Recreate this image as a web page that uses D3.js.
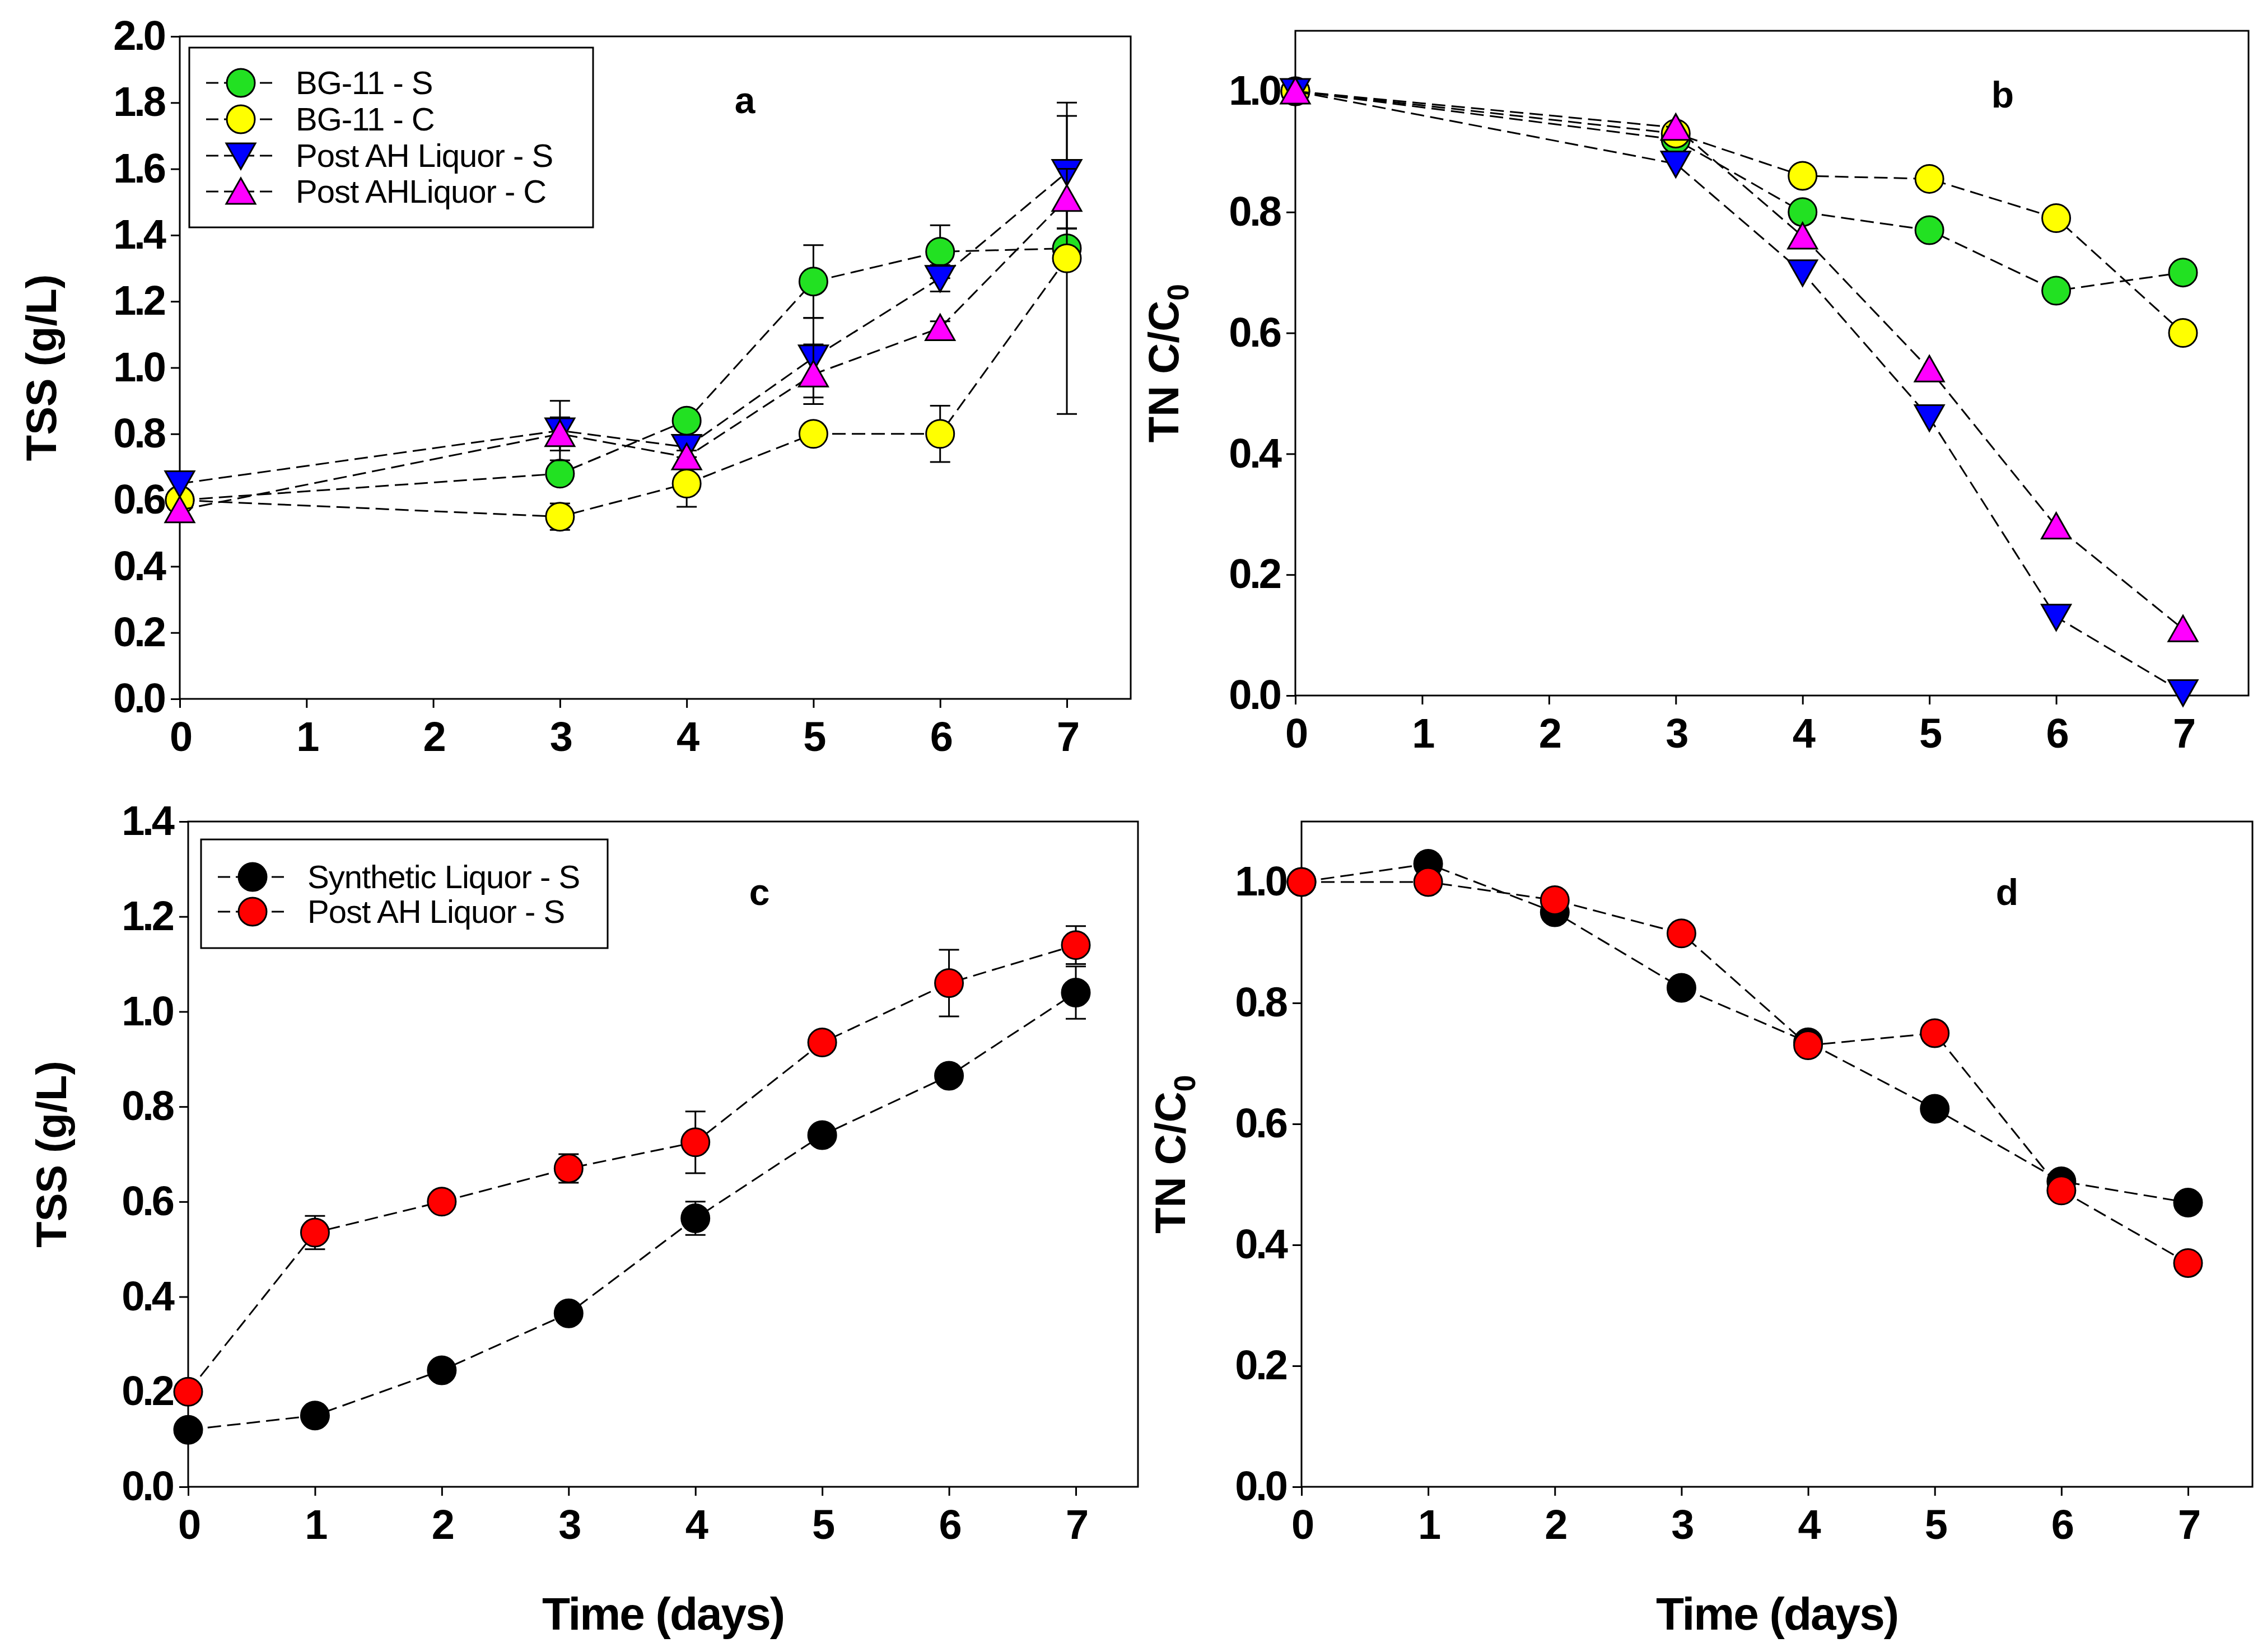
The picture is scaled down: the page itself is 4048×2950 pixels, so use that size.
<!DOCTYPE html>
<html><head><meta charset="utf-8">
<script src="https://cdn.jsdelivr.net/npm/d3@7"></script>
<style>body{margin:0;background:#fff}</style>
</head><body>
<script>
// data
const daysA = [0, 3, 4, 5, 6, 7];
const daysC = [0, 1, 2, 3, 4, 5, 6, 7];
const aGreen = [0.60, 0.68, 0.84, 1.26, 1.35, 1.36];
const aGreenErr = [0, 0.02, 0.02, 0.11, 0.08, 0.06];
const aYellow = [0.60, 0.55, 0.65, 0.80, 0.80, 1.33];
const aYellowErr = [0, 0.04, 0.07, 0.02, 0.085, 0.47];
const aBlue = [0.65, 0.81, 0.76, 1.03, 1.27, 1.59];
const aBlueErr = [0, 0.09, 0.03, 0.12, 0.04, 0.17];
const aPink = [0.57, 0.80, 0.73, 0.98, 1.12, 1.51];
const aPinkErr = [0, 0.05, 0.02, 0.09, 0.02, 0.09];
const bGreen = [1.0, 0.92, 0.80, 0.77, 0.67, 0.70];
const bYellow = [1.0, 0.93, 0.86, 0.855, 0.79, 0.60];
const bBlue = [1.0, 0.88, 0.70, 0.46, 0.13, 0.005];
const bPink = [1.0, 0.94, 0.76, 0.54, 0.28, 0.11];
const cBlack = [0.12, 0.15, 0.245, 0.365, 0.565, 0.74, 0.865, 1.04];
const cBlackErr = [0, 0, 0, 0.02, 0.035, 0, 0, 0.055];
const cRed = [0.20, 0.535, 0.60, 0.67, 0.725, 0.935, 1.06, 1.14];
const cRedErr = [0, 0.035, 0, 0.03, 0.065, 0, 0.07, 0.04];
const dBlack = [1.0, 1.03, 0.95, 0.825, 0.735, 0.625, 0.505, 0.47];
const dRed = [1.0, 1.0, 0.97, 0.915, 0.73, 0.75, 0.49, 0.37];
const legendA = ["BG-11 - S", "BG-11 - C", "Post AH Liquor - S", "Post AHLiquor - C"];
const legendC = ["Synthetic Liquor - S", "Post AH Liquor - S"];

const W = 4048, H = 2950;
const svg = d3.select("body").append("svg").attr("width", W).attr("height", H);
const tickFont = "'Liberation Sans Narrow', 'Liberation Sans', Arial, sans-serif";
const R = 25;

function panel(p) {
  const x = d3.scaleLinear().domain([0, 7]).range([p.x0, p.x7]);
  const y = d3.scaleLinear().domain([0, p.ymax]).range([p.bottom, p.top]);
  const g = svg.append("g");
  g.append("rect").attr("x", p.left).attr("y", p.top).attr("width", p.right - p.left)
    .attr("height", p.bottom - p.top).attr("fill", "none").attr("stroke", "#000").attr("stroke-width", 3);
  const ax = g.append("g").attr("transform", `translate(0,${p.bottom})`)
    .call(d3.axisBottom(x).ticks(8).tickSize(16).tickPadding(24).tickFormat(d3.format("d")));
  const ay = g.append("g").attr("transform", `translate(${p.left},0)`)
    .call(d3.axisLeft(y).tickValues(d3.range(0, p.ymax + 0.001, 0.2)).tickSize(16).tickPadding(12).tickFormat(d3.format(".1f")));
  [ax, ay].forEach(a => {
    a.select(".domain").remove();
    a.selectAll("line").attr("stroke-width", 3);
    a.selectAll("text").attr("font-family", tickFont).attr("font-weight", "bold").attr("font-size", 74)
      .attr("letter-spacing", -4).attr("fill", "#000");
  });
  g.append("text").attr("transform", `translate(${p.ytx},${(p.top + p.bottom) / 2}) rotate(-90)`)
    .attr("text-anchor", "middle").attr("font-family", "Arial, 'Liberation Sans', sans-serif")
    .attr("font-weight", "bold").attr("font-size", 76).text(p.ytitle).each(function () {
      if (p.sub) {
        d3.select(this).text("TN C/C");
        d3.select(this).append("tspan").attr("font-size", 54).attr("dy", 18).text("0");
      }
    });
  if (p.xtitle) {
    g.append("text").attr("x", (p.left + p.right) / 2).attr("y", 2910).attr("text-anchor", "middle")
      .attr("font-family", tickFont).attr("font-weight", "bold").attr("font-size", 82).attr("letter-spacing", -2).text("Time (days)");
  }
  g.append("text").attr("x", p.lx).attr("y", p.ly).attr("text-anchor", "middle")
    .attr("font-family", tickFont).attr("font-weight", "bold").attr("font-size", 66).text(p.letter);
  return { g, x, y };
}

function series(P, days, vals, errs, color, shape) {
  const line = d3.line().x((d, i) => P.x(days[i])).y(d => P.y(d));
  P.g.append("path").datum(vals).attr("d", line).attr("fill", "none").attr("stroke", "#000")
    .attr("stroke-width", 3).attr("stroke-dasharray", "24,11");
  if (errs) {
    vals.forEach((v, i) => {
      if (!errs[i]) return;
      const cx = P.x(days[i]), y1 = P.y(v - errs[i]), y2 = P.y(v + errs[i]);
      P.g.append("line").attr("x1", cx).attr("x2", cx).attr("y1", y1).attr("y2", y2).attr("stroke", "#000").attr("stroke-width", 3);
      [y1, y2].forEach(yy => P.g.append("line").attr("x1", cx - 18).attr("x2", cx + 18).attr("y1", yy).attr("y2", yy).attr("stroke", "#000").attr("stroke-width", 3));
    });
  }
  vals.forEach((v, i) => marker(P.g, P.x(days[i]), P.y(v), color, shape));
}

function marker(g, cx, cy, color, shape) {
  let sym = shape === "circle" ? null : shape === "down" ? "M-26,-22L26,-22L0,24Z" : "M-26,22L26,22L0,-24Z";
  if (!sym) g.append("circle").attr("cx", cx).attr("cy", cy).attr("r", R).attr("fill", color).attr("stroke", "#000").attr("stroke-width", 3);
  else g.append("path").attr("d", sym).attr("transform", `translate(${cx},${cy})`).attr("fill", color).attr("stroke", "#000").attr("stroke-width", 3);
}

function legend(g, x0, y0, w, h, rows, labels, styles) {
  g.append("rect").attr("x", x0).attr("y", y0).attr("width", w).attr("height", h).attr("fill", "#fff").attr("stroke", "#000").attr("stroke-width", 3);
  labels.forEach((t, i) => {
    const yy = rows[i];
    g.append("line").attr("x1", x0 + 30).attr("x2", x0 + 150).attr("y1", yy).attr("y2", yy).attr("stroke", "#000").attr("stroke-width", 3).attr("stroke-dasharray", "22,10");
    marker(g, x0 + 92, yy, styles[i][0], styles[i][1]);
    g.append("text").attr("x", x0 + 190).attr("y", yy + 20).attr("font-family", tickFont).attr("font-size", 58)
      .attr("letter-spacing", -1).text(t);
  });
}

const A = panel({ left: 321, right: 2019, top: 65, bottom: 1248, x0: 321, x7: 1905, ymax: 2.0, ytx: 100, ytitle: "TSS (g/L)", letter: "a", lx: 1330, ly: 202 });
series(A, daysA, aGreen, aGreenErr, "#22e122", "circle");
series(A, daysA, aYellow, aYellowErr, "#ffff00", "circle");
series(A, daysA, aBlue, aBlueErr, "#0000ff", "down");
series(A, daysA, aPink, aPinkErr, "#ff00ff", "up");
legend(A.g, 338, 85, 721, 321, [148, 213, 278, 342], legendA, [["#22e122", "circle"], ["#ffff00", "circle"], ["#0000ff", "down"], ["#ff00ff", "up"]]);

const B = panel({ left: 2313, right: 4015, top: 55, bottom: 1242, x0: 2313, x7: 3898, ymax: 1.1, ytx: 2104, ytitle: "TN C/C0", sub: true, letter: "b", lx: 3576, ly: 192 });
series(B, daysA, bGreen, null, "#22e122", "circle");
series(B, daysA, bYellow, null, "#ffff00", "circle");
series(B, daysA, bBlue, null, "#0000ff", "down");
series(B, daysA, bPink, null, "#ff00ff", "up");

const C = panel({ left: 336, right: 2032, top: 1467, bottom: 2655, x0: 336, x7: 1921, ymax: 1.4, ytx: 118, ytitle: "TSS (g/L)", xtitle: true, letter: "c", lx: 1356, ly: 1616 });
series(C, daysC, cBlack, cBlackErr, "#000", "circle");
series(C, daysC, cRed, cRedErr, "#ff0000", "circle");
legend(C.g, 359, 1499, 726, 194, [1566, 1628], legendC, [["#000", "circle"], ["#ff0000", "circle"]]);

const D = panel({ left: 2324, right: 4022, top: 1467, bottom: 2655, x0: 2324, x7: 3907, ymax: 1.1, ytx: 2116, ytitle: "TN C/C0", sub: true, xtitle: true, letter: "d", lx: 3584, ly: 1616 });
series(D, daysC, dBlack, null, "#000", "circle");
series(D, daysC, dRed, null, "#ff0000", "circle");
</script>
</body></html>
